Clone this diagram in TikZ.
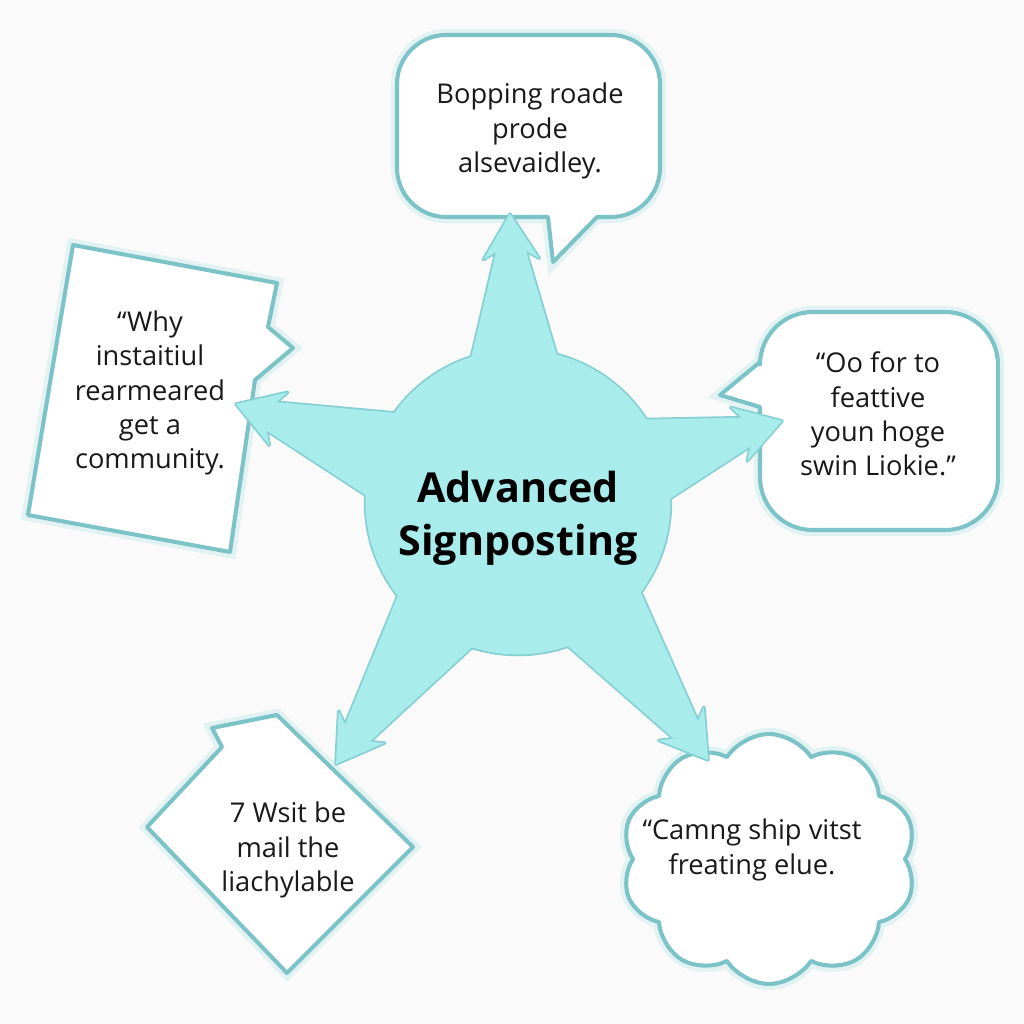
\documentclass[tikz,border=0pt]{standalone}
\usepackage{fontspec}
\setmainfont{Open Sans}
\usetikzlibrary{calc,shapes.symbols}

\definecolor{armcyan}{HTML}{A8ECEC}
\definecolor{armedge}{HTML}{86CFD3}
\definecolor{notepen}{HTML}{7CC3C8}
\definecolor{paper}{HTML}{FAFAFA}

\tikzset{
  noteline/.style={draw=notepen, line width=2.3pt, line join=round, fill=white,
    preaction={draw=notepen!22, line width=7pt}},
  notetext/.style={align=center, text=black!90, inner sep=0pt,
    font=\fontsize{15.5}{19.5}\selectfont},
  titletext/.style={align=center, text=black, inner sep=0pt,
    font=\fontsize{23.5}{30}\selectfont\bfseries},
  armrim/.style={fill=armcyan, draw=armedge, line width=2pt, line join=round},
  armbody/.style={fill=armcyan},
}

% one arm of the star, from the hub out to a tip
\newcommand\signarm[2]{%
  \path ($(hub.center)!1.8cm!(#2)$) coordinate (armb)
        ($(#2)!0.75cm!(hub.center)$) coordinate (armn)
        ($(#2)!0.9cm!(hub.center)$) coordinate (armw);
  \path[#1] ($(armb)!1.15cm!90:(#2)$) -- ($(armn)!0.3cm!-90:(hub.center)$)
    -- ($(armw)!0.56cm!-90:(hub.center)$) -- (#2)
    -- ($(armw)!0.56cm!90:(hub.center)$) -- ($(armn)!0.3cm!90:(hub.center)$)
    -- ($(armb)!1.15cm!-90:(#2)$) -- cycle;}

\begin{document}
\begin{tikzpicture}[x=0.02cm, y=-0.02cm]
\useasboundingbox[fill=paper] (0,0) rectangle (1024,1024);

% callouts
\draw[noteline] (553,262) -- (548,217) [rounded corners=28] -- (397,217) -- (397,35)
  -- (660,35) -- (660,217) [sharp corners] -- (597,217) -- cycle;
\draw[noteline] (720,395) -- (760,407) [rounded corners=30] -- (760,530) -- (998,530)
  -- (998,312) -- (760,312) [sharp corners] -- (760,362) -- cycle;
\draw[noteline] (73,245) -- (277,283) -- (268,327) -- (293,348) -- (255,380)
  -- (230,552) -- (28,515) -- cycle;
\draw[noteline] (212,728) -- (277,715) -- (413,847) -- (287,973) -- (147,827)
  -- (222,747) -- cycle;
\node[noteline, cloud, cloud puffs=10, cloud puff arc=115, aspect=1.2,
  minimum width=5.9cm, minimum height=5cm, inner sep=0pt] (cloudnote) at (769,859) {};

\node[notetext] (topnote) at (530,131) {Bopping roade\\prode\\alsevaidley.};
\node[notetext] (leftnote) at (150,393) {“Why\\instaitiul\\rearmeared\\get a\\community.};
\node[notetext] (rightnote) at (878,414) {“Oo for to\\feattive\\youn hoge\\swin Liokie.”};
\node[notetext] (housenote) at (288,850) {7 Wsit be\\mail the\\liachylable};
\node[notetext] (cloudtext) at (752,850) {“Camng ship vitst\\freating elue.};

% star
\coordinate (tipN) at (510,214);
\coordinate (tipW) at (236,404);
\coordinate (tipE) at (782,421);
\coordinate (tipSW) at (336,764);
\coordinate (tipSE) at (708,760);
\node[circle, minimum size=6.1cm, inner sep=0pt, fill=armcyan, draw=armedge,
  line width=2pt] (hub) at (518,502) {};
\foreach \t in {tipN,tipW,tipE,tipSW,tipSE} {\signarm{armrim}{\t}}
\fill[armcyan] (hub.center) circle (3.05cm);
\foreach \t in {tipN,tipW,tipE,tipSW,tipSE} {\signarm{armbody}{\t}}
\node[titletext] (title) at (518,518) {Advanced\\Signposting};
\end{tikzpicture}
\end{document}
